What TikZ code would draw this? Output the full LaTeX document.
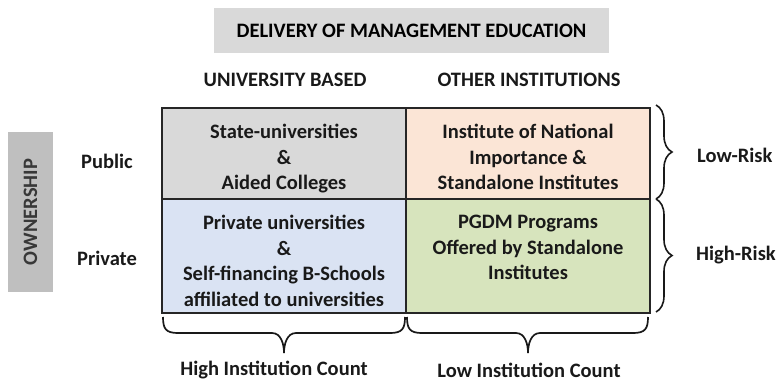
\documentclass[tikz,border=0pt]{standalone}
\usepackage{fontspec}
\setmainfont{Carlito}
\usepackage{xcolor}
\usepackage{tikz}
\usetikzlibrary{positioning,calc,decorations.pathreplacing}

\definecolor{headgray}{HTML}{D9D9D9}
\definecolor{ownergray}{HTML}{BFBFBF}
\definecolor{ownertext}{HTML}{383838}
\definecolor{statefill}{HTML}{D9D9D9}
\definecolor{nationalfill}{HTML}{FBE5D6}
\definecolor{privatefill}{HTML}{DAE3F3}
\definecolor{pgdmfill}{HTML}{D7E4BD}

\begin{document}
\begin{tikzpicture}[
    x=1pt, y=1pt,
    font=\fontsize{20.5}{25.5}\selectfont\bfseries,
    cell/.style={rectangle, draw=black!85, line width=1.2pt, minimum width=244pt, inner sep=0pt, outer sep=0pt},
    celltext/.style={anchor=north, inner sep=0pt, align=center, text=black!90},
    headbox/.style={rectangle, fill=headgray, minimum width=395pt, minimum height=45pt, inner sep=0pt},
    ownerbox/.style={rectangle, fill=ownergray, text=ownertext, minimum width=160pt, minimum height=45pt, inner sep=0pt, rotate=90},
    lbl/.style={inner sep=0pt, text=black!90},
    curly/.style={decorate, decoration={brace, amplitude=#1}, line width=1.6pt, draw=black!90},
    bigcurly/.style={line width=1.7pt, draw=black!90}
]
    \useasboundingbox (0,0) rectangle (779,-381);

    % header and column titles
    \node[headbox] (delivery) at (411.5,-30.5) {DELIVERY OF MANAGEMENT EDUCATION};
    \node[lbl] (univ) at (285,-80) {UNIVERSITY BASED};
    \node[lbl] (other) at (529,-80) {OTHER INSTITUTIONS};

    % the four cells
    \node[cell, fill=statefill, minimum height=91pt] (state) at (284,-153.5) {};
    \node[cell, fill=nationalfill, minimum height=91pt, right=0pt of state] (national) {};
    \node[cell, fill=privatefill, minimum height=114pt, below=0pt of state] (privuni) {};
    \node[cell, fill=pgdmfill, minimum height=114pt, below=0pt of national] (pgdm) {};

    \node[celltext] (statetext) at ([yshift=-16pt]state.north) {State-universities\\\&\\Aided Colleges};
    \node[celltext] (nationaltext) at ([yshift=-16pt]national.north) {Institute of National\\Importance \&\\Standalone Institutes};
    \node[celltext] (privunitext) at ([yshift=-16pt]privuni.north) {Private universities\\\&\\Self-financing B-Schools\\affiliated to universities};
    \node[celltext] (pgdmtext) at ([yshift=-16pt]pgdm.north) {PGDM Programs\\Offered by Standalone\\Institutes};

    % ownership side
    \node[ownerbox] (owner) at (30.5,-212) {OWNERSHIP};
    \node[lbl] (public) at (107,-161) {Public};
    \node[lbl] (private) at (107,-258) {Private};

    % risk braces
    \draw[curly=16] ([xshift=6pt,yshift=3pt]national.north east) -- ([xshift=6pt]national.south east);
    \draw[curly=16] ([xshift=6pt]pgdm.north east) -- ([xshift=6pt,yshift=1pt]pgdm.south east);
    \node[lbl, anchor=west] (lowrisk) at (697,-155) {Low-Risk};
    \node[lbl, anchor=west] (highrisk) at (696,-255) {High-Risk};

    % count braces
    \draw[bigcurly] ([xshift=1pt,yshift=-4pt]privuni.south west) .. controls +(0,-12) and +(-12,0) .. ++(15,-16)
        -- ([xshift=-12pt,yshift=-20pt]privuni.south) .. controls +(9,0) and +(0,9) .. ([yshift=-40pt]privuni.south);
    \draw[bigcurly] ([xshift=-1pt,yshift=-4pt]privuni.south east) .. controls +(0,-12) and +(12,0) .. ++(-15,-16)
        -- ([xshift=12pt,yshift=-20pt]privuni.south) .. controls +(-9,0) and +(0,9) .. ([yshift=-40pt]privuni.south);
    \draw[bigcurly] ([xshift=1pt,yshift=-4pt]pgdm.south west) .. controls +(0,-12) and +(-12,0) .. ++(15,-16)
        -- ([xshift=-12pt,yshift=-20pt]pgdm.south) .. controls +(9,0) and +(0,9) .. ([yshift=-40pt]pgdm.south);
    \draw[bigcurly] ([xshift=-2pt,yshift=-4pt]pgdm.south east) .. controls +(0,-12) and +(12,0) .. ++(-15,-16)
        -- ([xshift=12pt,yshift=-20pt]pgdm.south) .. controls +(-9,0) and +(0,9) .. ([yshift=-40pt]pgdm.south);
    \node[lbl] (highcount) at (274,-370) {High Institution Count};
    \node[lbl] (lowcount) at (529,-370) {Low Institution Count};
\end{tikzpicture}
\end{document}
